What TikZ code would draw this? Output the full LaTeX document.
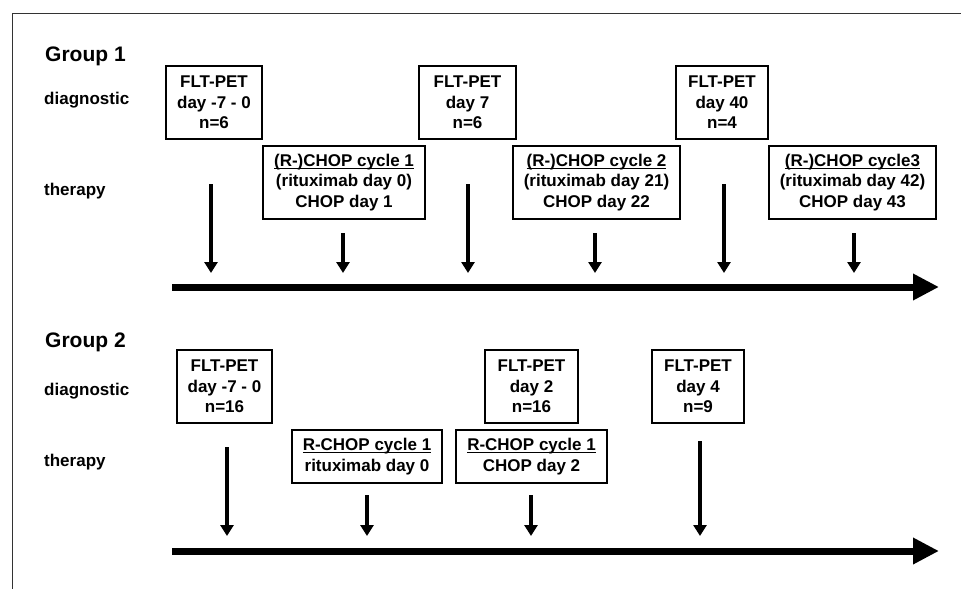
\documentclass[tikz,border=0pt]{standalone}
\usepackage{fontspec}
\setmainfont{Liberation Sans}
\usetikzlibrary{arrows.meta}
\newcommand{\myul}[1]{\leavevmode\setbox0\hbox{#1}\rlap{\rule[-2.8pt]{\wd0}{1.2pt}}\box0}
\tikzset{
  lbl/.style={anchor=base west,inner sep=0pt,font=\bfseries\fontsize{17}{20.5}\selectfont},
  grp/.style={anchor=base west,inner sep=0pt,font=\bfseries\fontsize{21}{24}\selectfont},
  evbox/.style={draw,line width=1.6pt,inner sep=0pt,align=center,
     font=\bfseries\fontsize{17}{20.5}\selectfont},
  tick/.style={line width=3.8pt,-{Triangle[width=13pt,length=11pt]}},
  axis/.style={line width=7pt,-{Triangle[width=25pt,length=26pt]}},
  frame/.style={line width=1pt,draw=black!80}
}
\begin{document}
\begin{tikzpicture}[x=1pt,y=-1pt]
\useasboundingbox (0,0) rectangle (961,589);
\fill[white] (0,0) rectangle (961,589);
% frame
\coordinate (fr1) at (961,13);
\coordinate (fr2) at (12,13);
\coordinate (fr3) at (12,589);
\draw[frame] (fr1) -- (fr2) -- (fr3);

% ---------- Group 1 ----------
\node[grp] (g1) at (45,61.5) {Group 1};
\node[lbl] (d1) at (44,104) {diagnostic};
\node[lbl] (t1) at (44,195) {therapy};

\node[evbox,minimum width=96pt,minimum height=73pt] (b11) at (214,102.5) {FLT-PET\\day -7 - 0\\n=6};
\node[evbox,minimum width=162pt,minimum height=73pt] (b12) at (344,182.5) {\myul{(R-)CHOP cycle 1}\\(rituximab day 0)\\CHOP day 1};
\node[evbox,minimum width=97pt,minimum height=73pt] (b13) at (467.5,102.5) {FLT-PET\\day 7\\n=6};
\node[evbox,minimum width=167pt,minimum height=73pt] (b14) at (596.5,182.5) {\myul{(R-)CHOP cycle 2}\\(rituximab day 21)\\CHOP day 22};
\node[evbox,minimum width=92pt,minimum height=73pt] (b15) at (722,102.5) {FLT-PET\\day 40\\n=4};
\node[evbox,minimum width=167pt,minimum height=73pt] (b16) at (852.5,182.5) {\myul{(R-)CHOP cycle3}\\(rituximab day 42)\\CHOP day 43};

\coordinate (a11s) at (211,184);  \coordinate (a11e) at (211,273);
\coordinate (a12s) at (343,233);  \coordinate (a12e) at (343,273);
\coordinate (a13s) at (468,184);  \coordinate (a13e) at (468,273);
\coordinate (a14s) at (595,233);  \coordinate (a14e) at (595,273);
\coordinate (a15s) at (724,184);  \coordinate (a15e) at (724,273);
\coordinate (a16s) at (854,233);  \coordinate (a16e) at (854,273);
\foreach \i in {1,...,6} \draw[tick] (a1\i s) -- (a1\i e);

\coordinate (ax1s) at (172,287);
\coordinate (ax1e) at (939,287);
\draw[axis] (ax1s) -- (ax1e);

% ---------- Group 2 ----------
\node[grp] (g2) at (45,347) {Group 2};
\node[lbl] (d2) at (44,395) {diagnostic};
\node[lbl] (t2) at (44,466) {therapy};

\node[evbox,minimum width=95pt,minimum height=73pt] (b21) at (224.5,386.5) {FLT-PET\\day -7 - 0\\n=16};
\node[evbox,minimum width=150pt,minimum height=53pt] (b22) at (367,456.5) {\myul{R-CHOP cycle 1}\\rituximab day 0};
\node[evbox,minimum width=151pt,minimum height=53pt] (b23) at (531.5,456.5) {\myul{R-CHOP cycle 1}\\CHOP day 2};
\node[evbox,minimum width=93pt,minimum height=73pt] (b24) at (531.5,386.5) {FLT-PET\\day 2\\n=16};
\node[evbox,minimum width=92pt,minimum height=73pt] (b25) at (698,386.5) {FLT-PET\\day 4\\n=9};

\coordinate (a21s) at (227,447);  \coordinate (a21e) at (227,536);
\coordinate (a22s) at (367,495);  \coordinate (a22e) at (367,536);
\coordinate (a23s) at (531,495);  \coordinate (a23e) at (531,536);
\coordinate (a24s) at (700,441);  \coordinate (a24e) at (700,536);
\foreach \i in {1,...,4} \draw[tick] (a2\i s) -- (a2\i e);

\coordinate (ax2s) at (172,551);
\coordinate (ax2e) at (939,551);
\draw[axis] (ax2s) -- (ax2e);
\end{tikzpicture}
\end{document}
